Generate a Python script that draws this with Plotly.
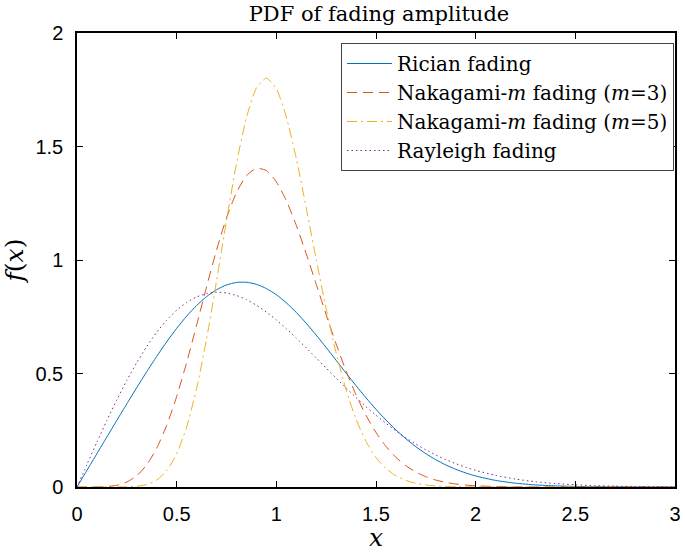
import plotly.graph_objects as go

# x sample positions
x_vals = [0.00, 0.05, 0.10, 0.15, 0.20, 0.25, 0.30, 0.35, 0.40, 0.45,
          0.50, 0.55, 0.60, 0.65, 0.70, 0.75, 0.80, 0.85, 0.90, 0.95,
          1.00, 1.05, 1.10, 1.15, 1.20, 1.25, 1.30, 1.35, 1.40, 1.45,
          1.50, 1.55, 1.60, 1.65, 1.70, 1.75, 1.80, 1.85, 1.90, 1.95,
          2.00, 2.10, 2.20, 2.30, 2.40, 2.50, 2.60, 2.70, 2.80, 2.90, 3.00]

rician = [0.0000, 0.0736, 0.1471, 0.2206, 0.2938, 0.3665, 0.4382, 0.5081, 0.5755, 0.6395,
          0.6989, 0.7526, 0.7995, 0.8386, 0.8690, 0.8900, 0.9010, 0.9020, 0.8929, 0.8743,
          0.8469, 0.8114, 0.7691, 0.7212, 0.6692, 0.6144, 0.5581, 0.5017, 0.4462, 0.3928,
          0.3421, 0.2949, 0.2515, 0.2124, 0.1774, 0.1467, 0.1201, 0.0973, 0.0780, 0.0619,
          0.0486, 0.0290, 0.0167, 0.0092, 0.0049, 0.0025, 0.0012, 0.0006, 0.0003, 0.0001, 0.0000]

nakagami_m3 = [0.0000, 0.0000, 0.0003, 0.0019, 0.0077, 0.0219, 0.0501, 0.0982, 0.1711, 0.2714,
               0.3986, 0.5483, 0.7130, 0.8820, 1.0434, 1.1852, 1.2971, 1.3714, 1.4037, 1.3939,
               1.3443, 1.2618, 1.1530, 1.0275, 0.8936, 0.7588, 0.6298, 0.5111, 0.4058, 0.3154,
               0.2401, 0.1790, 0.1307, 0.0937, 0.0658, 0.0453, 0.0306, 0.0203, 0.0132, 0.0085,
               0.0053, 0.0020, 0.0007, 0.0002, 0.0001, 0.0000, 0.0000, 0.0000, 0.0000, 0.0000, 0.0000]

nakagami_m5 = [0.0000, 0.0000, 0.0000, 0.0000, 0.0001, 0.0007, 0.0033, 0.0111, 0.0307, 0.0716,
               0.1457, 0.2643, 0.4338, 0.6524, 0.9069, 1.1743, 1.4247, 1.6273, 1.7577, 1.8012,
               1.7546, 1.6304, 1.4479, 1.2303, 1.0032, 0.7850, 0.5905, 0.4276, 0.2984, 0.2006,
               0.1302, 0.0816, 0.0494, 0.0289, 0.0164, 0.0090, 0.0048, 0.0024, 0.0012, 0.0006,
               0.0003, 0.0000, 0.0000, 0.0000, 0.0000, 0.0000, 0.0000, 0.0000, 0.0000, 0.0000, 0.0000]

rayleigh = [0.0000, 0.0998, 0.1980, 0.2933, 0.3843, 0.4697, 0.5484, 0.6193, 0.6817, 0.7350,
            0.7788, 0.8129, 0.8372, 0.8520, 0.8577, 0.8547, 0.8437, 0.8254, 0.8007, 0.7706,
            0.7358, 0.6973, 0.6560, 0.6129, 0.5686, 0.5240, 0.4798, 0.4364, 0.3944, 0.3542,
            0.3162, 0.2806, 0.2474, 0.2167, 0.1890, 0.1637, 0.1410, 0.1207, 0.1028, 0.0870,
            0.0733, 0.0511, 0.0348, 0.0232, 0.0151, 0.0097, 0.0060, 0.0037, 0.0022, 0.0013, 0.0007]

series_names = ["Rician fading",
                "Nakagami-<i>m</i> fading (<i>m</i>=3)",
                "Nakagami-<i>m</i> fading (<i>m</i>=5)",
                "Rayleigh fading"]

x_ticks = [0, 0.5, 1, 1.5, 2, 2.5, 3]
x_ticktext = ["0", "0.5", "1", "1.5", "2", "2.5", "3"]
y_ticks = [0, 0.5, 1, 1.5, 2]
y_ticktext = ["0", "0.5", "1", "1.5", "2"]

colors = ["#0072BD", "#D95319", "#EDB120", "#7E2F8E"]
dashes = ["solid", "10px,6px", "10px,4px,2px,4px", "1.5px,3px"]

fig = go.Figure()
for ys, name, c, d in zip([rician, nakagami_m3, nakagami_m5, rayleigh], series_names, colors, dashes):
    fig.add_trace(go.Scatter(x=x_vals, y=ys, mode="lines", name=name,
                             line=dict(color=c, width=1, dash=d, shape="spline", smoothing=0.6)))

serif = "DejaVu Serif"
sans = "Liberation Sans"

fig.update_layout(
    width=685, height=552,
    margin=dict(l=77, r=4, t=33, b=65),
    paper_bgcolor="white", plot_bgcolor="white",
    font=dict(family=serif, size=20, color="black"),
    title=dict(text="PDF of fading amplitude", x=(77 + 302) / 685, xanchor="center",
               y=(552 - 14) / 552, yanchor="middle", yref="container",
               font=dict(family=serif, size=21, color="black")),
    legend=dict(x=(680 - 77) / 604, xanchor="right", y=(487 - 43) / 454, yanchor="top",
                bgcolor="white", bordercolor="#444", borderwidth=1, itemwidth=45,
                font=dict(family=serif, size=20, color="black"), tracegroupgap=0),
    showlegend=True,
)

axis_common = dict(showgrid=False, zeroline=False, showline=True, linecolor="black", linewidth=1.5,
                   mirror="ticks", ticks="inside", ticklen=6, tickwidth=1.2, tickcolor="black",
                   tickfont=dict(family=sans, size=20, color="black"))

fig.update_xaxes(range=[0, 3], tickvals=x_ticks, ticktext=x_ticktext, ticklabelstandoff=8,
                 title=dict(text="<i>x</i>", standoff=5,
                            font=dict(family="DejaVu Serif", size=25, color="black")),
                 **axis_common)
fig.update_yaxes(range=[0, 2], tickvals=y_ticks, ticktext=y_ticktext, ticklabelstandoff=8,
                 title=dict(text="<i>f</i>(<i>x</i>)", standoff=6,
                            font=dict(family="DejaVu Serif", size=25, color="black")),
                 **axis_common)

fig.write_html("out.html")
